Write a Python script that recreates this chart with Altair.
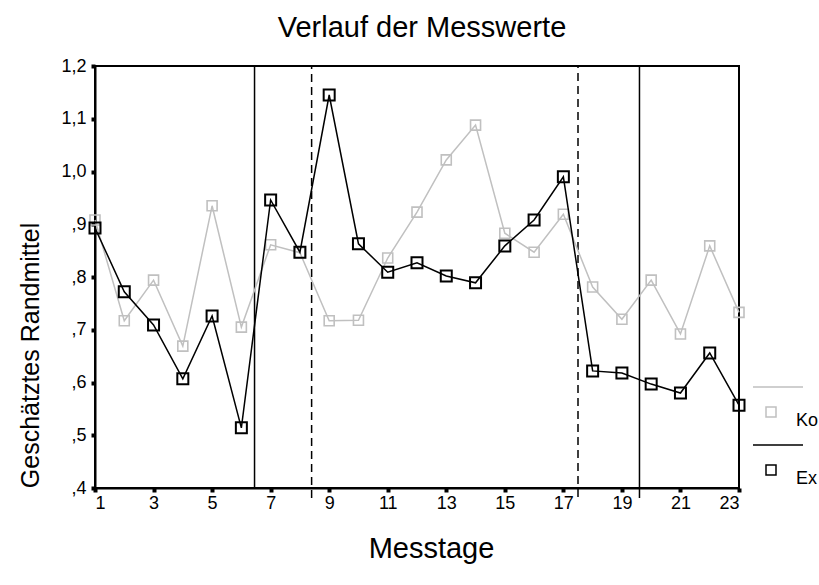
import altair as alt
import pandas as pd

# Estimated marginal means per measurement day for the two groups
days = list(range(1, 24))
ko = [0.908, 0.717, 0.794, 0.669, 0.935, 0.705, 0.861, 0.846, 0.717, 0.718, 0.836, 0.923,
      1.022, 1.088, 0.883, 0.847, 0.919, 0.781, 0.720, 0.794, 0.692, 0.859, 0.733]
ex = [0.893, 0.772, 0.709, 0.607, 0.726, 0.514, 0.946, 0.847, 1.145, 0.863, 0.809, 0.827,
      0.802, 0.789, 0.859, 0.908, 0.990, 0.622, 0.618, 0.597, 0.580, 0.656, 0.557]
groups = ["Ko", "Ex"]
group_colors = ["#c0c0c0", "#000000"]

# Phase boundaries (vertical separators)
phase_pos = [6.45, 8.4, 17.5, 19.6]
phase_style = ["solid", "dashed", "dashed", "solid"]
phase_low = [0.4, 0.381, 0.383, 0.381]

x_ticks = list(range(1, 24, 2))
y_ticks = [0.4, 0.5, 0.6, 0.7, 0.8, 0.9, 1.0, 1.1, 1.2]

FONT = "Liberation Sans"

df = pd.DataFrame({
    "Tag": days * 2,
    "Wert": ko + ex,
    "Gruppe": ["Ko"] * len(days) + ["Ex"] * len(days),
})
phases = pd.DataFrame({
    "Tag": phase_pos,
    "Wert": phase_low,
    "Wert2": [1.2] * len(phase_pos),
    "Stil": phase_style,
})

x_enc = alt.X(
    "Tag:Q",
    scale=alt.Scale(domain=[1, 23], nice=False, zero=False),
    axis=alt.Axis(values=x_ticks, title="Messtage", titleX=336, titleY=60,
                  titleBaseline="middle", titleAlign="center", titleFontSize=29,
                  labelPadding=2),
)
y_enc = alt.Y(
    "Wert:Q",
    scale=alt.Scale(domain=[0.4, 1.2], nice=False, zero=False),
    axis=alt.Axis(values=y_ticks, title="Geschätztes Randmittel",
                  labelExpr="replace(replace(format(datum.value, '.1f'), '0.', ','), '.', ',')",
                  titleX=-65, titleY=289, titleAlign="center", titleBaseline="middle",
                  titleFontSize=25, labelPadding=5),
)
color_scale = alt.Scale(domain=groups, range=group_colors)

legend = alt.Legend(
    title=None, orient="none", legendX=667, legendY=337,
    symbolType="M-3.6,-5H6.4M-1,-1H1V1H-1Z", symbolSize=100, symbolStrokeWidth=1.5,
    symbolFillColor="transparent",
    labelFont=FONT, labelFontSize=18, labelColor="black", labelOffset=16,
    labelBaseline="top", rowPadding=12,
)

rules = alt.Chart(phases).mark_rule(color="black", strokeWidth=1.5).encode(
    x=x_enc,
    y=y_enc,
    y2="Wert2:Q",
    strokeDash=alt.StrokeDash("Stil:N", scale=alt.Scale(domain=["solid", "dashed"],
                                                       range=[[1, 0], [8, 5]]), legend=None),
)


def series(name, width, size, with_legend):
    base = alt.Chart(df).transform_filter(alt.datum.Gruppe == name)
    col = alt.Color("Gruppe:N", scale=color_scale, legend=legend if with_legend else None)
    line = base.mark_line(strokeWidth=1.5).encode(x=x_enc, y=y_enc, color=col)
    pts = base.mark_point(shape="square", filled=False, size=size, strokeWidth=width,
                          opacity=1).encode(x=x_enc, y=y_enc, color=col)
    return line + pts


chart = alt.layer(
    rules,
    series("Ko", 1.6, 100, True),
    series("Ex", 2.0, 121, False),
).properties(
    width=644,
    height=422,
    background="white",
    autosize=alt.AutoSizeParams(type="none"),
    padding={"left": 95, "top": 66, "right": 80, "bottom": 97},
    title=alt.Title("Verlauf der Messwerte", font=FONT, fontSize=29, fontWeight="normal",
                    color="black", anchor="middle", frame="group", offset=14, dx=5),
).configure_view(
    stroke="black", strokeWidth=2
).configure_axis(
    grid=False, domainColor="black", domainWidth=2,
    tickColor="black", tickWidth=4, tickSize=4,
    labelFont=FONT, labelFontSize=18, labelColor="black",
    titleFont=FONT, titleFontWeight="normal", titleColor="black",
)

chart.save("out.html", embed_options={"renderer": "svg", "actions": False})
